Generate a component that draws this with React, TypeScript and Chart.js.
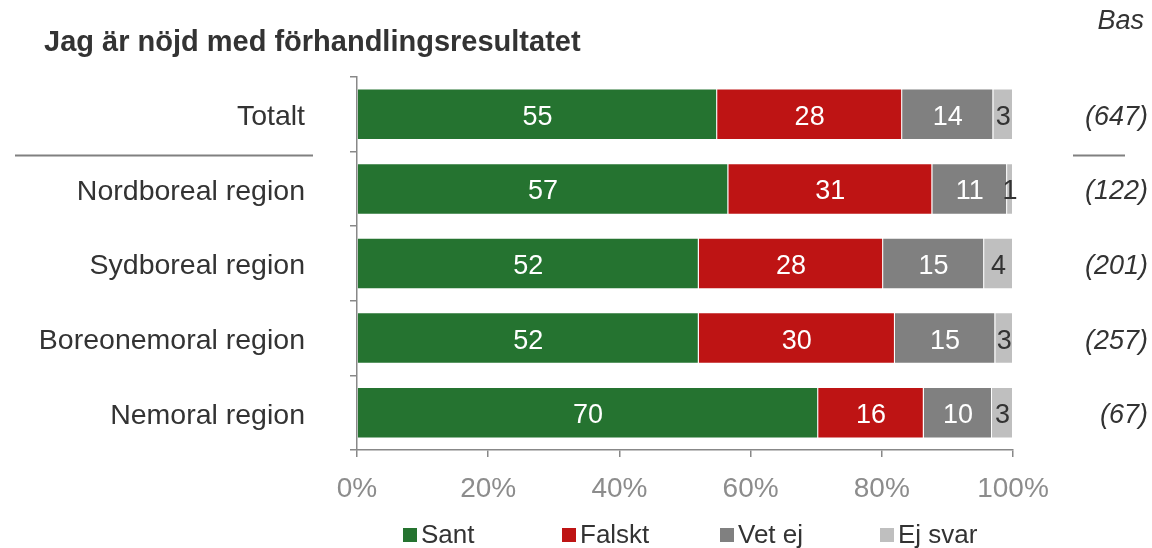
import React, { useEffect, useRef } from 'react';
import { Chart, registerables } from 'chart.js';

Chart.register(...registerables);

const FONT = '"Liberation Sans", Arial, sans-serif';

const titleText = 'Jag är nöjd med förhandlingsresultatet';
const basTitle = 'Bas';
const categories = ['Totalt', 'Nordboreal region', 'Sydboreal region', 'Boreonemoral region', 'Nemoral region'];
const bases = ['(647)', '(122)', '(201)', '(257)', '(67)'];
const seriesNames = ['Sant', 'Falskt', 'Vet ej', 'Ej svar'];
const sant = [54.9, 56.6, 52.1, 52.1, 70.3];
const falskt = [28.2, 31.1, 28.1, 29.9, 16.1];
const vetEj = [13.9, 11.4, 15.4, 15.3, 10.4];
const ejSvar = [3.0, 0.9, 4.4, 2.7, 3.2];
const seriesColors = ['#257330', '#BE1414', '#808080', '#BFBFBF'];
const labelColors = ['#ffffff', '#ffffff', '#ffffff', '#333333'];
const xMin = 0;
const xMax = 100;
const xStep = 20;

const overlayPlugin = {
  id: 'overlay',
  afterDatasetsDraw(chart: any) {
    const ctx = chart.ctx;
    ctx.save();
    ctx.font = `27px ${FONT}`;
    ctx.textAlign = 'center';
    ctx.textBaseline = 'middle';
    chart.data.datasets.forEach((ds: any, di: number) => {
      const meta = chart.getDatasetMeta(di);
      meta.data.forEach((bar: any, i: number) => {
        const p = bar.getProps(['x', 'y', 'base'], true);
        const cx = (p.x + p.base) / 2;
        ctx.fillStyle = labelColors[di];
        ctx.fillText(String(Math.round(ds.data[i])), cx, p.y + 3);
      });
    });
    ctx.restore();
  },
  afterDraw(chart: any) {
    const ctx = chart.ctx;
    const yScale = chart.scales.y;
    ctx.save();
    // title
    ctx.fillStyle = '#333333';
    ctx.font = `bold 29px ${FONT}`;
    ctx.textAlign = 'left';
    ctx.textBaseline = 'alphabetic';
    ctx.fillText(titleText, 44, 51);
    // Bas
    ctx.font = `italic 27px ${FONT}`;
    ctx.textAlign = 'right';
    ctx.textBaseline = 'middle';
    ctx.fillText(basTitle, 1144, 21);
    // bases
    bases.forEach((b, i) => {
      ctx.fillText(b, 1148, yScale.getPixelForValue(i) + 3);
    });
    // separators
    const sepY = (yScale.getPixelForValue(0) + yScale.getPixelForValue(1)) / 2 + 4;
    ctx.strokeStyle = '#808080';
    ctx.lineWidth = 2;
    ctx.beginPath();
    ctx.moveTo(15, sepY);
    ctx.lineTo(313, sepY);
    ctx.moveTo(1073, sepY);
    ctx.lineTo(1125, sepY);
    ctx.stroke();
    // legend
    const legendX = [403, 562, 720, 880];
    const legendY = 535;
    ctx.font = `26px ${FONT}`;
    ctx.textAlign = 'left';
    ctx.textBaseline = 'middle';
    chart.data.datasets.forEach((ds: any, di: number) => {
      const lx = legendX[di];
      ctx.fillStyle = ds.backgroundColor;
      ctx.fillRect(lx, legendY - 7, 14, 14);
      ctx.fillStyle = '#333333';
      ctx.fillText(ds.label, lx + 18, legendY + 1);
    });
    ctx.restore();
  },
};

export default function App() {
  const canvasRef = useRef<HTMLCanvasElement | null>(null);

  useEffect(() => {
    document.body.style.margin = '0';
    const canvas = canvasRef.current;
    if (!canvas) return;
    const seriesData = [sant, falskt, vetEj, ejSvar];
    const chart = new Chart(canvas, {
      type: 'bar',
      data: {
        labels: categories,
        datasets: seriesNames.map((name, i) => ({
          label: name,
          data: seriesData[i],
          backgroundColor: seriesColors[i],
          borderColor: 'rgba(255,255,255,0.55)',
          borderWidth: 1,
          barPercentage: 0.69,
          categoryPercentage: 1,
        })),
      },
      options: {
        indexAxis: 'y',
        animation: false,
        responsive: false,
        maintainAspectRatio: false,
        layout: { padding: { top: 77, right: 139, bottom: 0, left: 0 } },
        plugins: {
          legend: { display: false },
          tooltip: { enabled: false },
          title: { display: false },
        },
        scales: {
          x: {
            type: 'linear',
            stacked: true,
            min: xMin,
            max: xMax,
            ticks: {
              stepSize: xStep,
              callback: (v: any) => `${v}%`,
              color: '#8c8c8c',
              font: { size: 28, family: FONT },
              padding: 15,
              maxRotation: 0,
            },
            grid: { drawOnChartArea: false, drawTicks: true, tickLength: 7, color: '#888888', lineWidth: 1.5 },
            border: { color: '#888888', width: 1.5 },
            afterFit: (scale: any) => {
              scale.height = 98;
            },
          },
          y: {
            type: 'category',
            stacked: true,
            ticks: {
              color: '#333333',
              font: { size: 28.5, family: FONT },
              padding: 45,
              labelOffset: 3,
            },
            grid: { drawOnChartArea: false, drawTicks: true, tickLength: 7, color: '#888888', lineWidth: 1.5, offset: true },
            border: { color: '#888888', width: 1.5 },
            afterFit: (scale: any) => {
              scale.width = 357;
            },
          },
        },
      },
      plugins: [overlayPlugin],
    });
    return () => chart.destroy();
  }, []);

  return (
    <div style={{ width: 1152, height: 548, background: '#ffffff' }}>
      <canvas ref={canvasRef} width={1152} height={548} style={{ display: 'block' }} />
    </div>
  );
}
